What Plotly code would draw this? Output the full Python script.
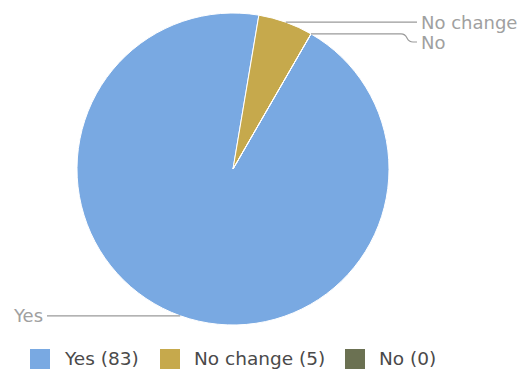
import math
import plotly.graph_objects as go

# ---- data ----
labels = ["Yes", "No change", "No"]
values = [83, 5, 0]
colors = ["#79a9e2", "#c6a94c", "#6b7152"]

W, H = 522, 372
CX, CY, R = 233, 169, 156  # pie centre / radius in px
ROT = 30  # start angle (deg, clockwise from 12 o'clock)

def px(x):
    return x / W

def py(y):
    return 1 - y / H

fig = go.Figure(go.Pie(
    labels=labels,
    values=values,
    marker=dict(colors=colors, line=dict(color="white", width=1)),
    sort=False,
    direction="clockwise",
    rotation=ROT,
    textinfo="none",
    hoverinfo="label+value+percent",
    showlegend=False,
    domain=dict(x=[px(CX - R), px(CX + R)], y=[py(CY + R), py(CY - R)]),
))

# anchor points of the slices, derived from the data
total = sum(values)
anchors = []
start = ROT
for v in values:
    span = 360 * v / total
    mid = start + span / 2
    a = math.radians(mid)
    anchors.append((CX + R * math.sin(a), CY - R * math.cos(a)))
    start += span

shapes = []
annotations = []
label_font = dict(family="DejaVu Sans", size=18, color="#a0a0a0")
line_style = dict(color="#9a9a9a", width=1.2)

# Yes (left, bottom)
ax, ay = anchors[0]
shapes.append(dict(type="line", xref="paper", yref="paper",
                   x0=px(ax), y0=py(ay), x1=px(47), y1=py(ay), line=line_style))
annotations.append(dict(xref="paper", yref="paper", x=px(45), y=py(ay),
                        text=labels[0], showarrow=False, xanchor="right",
                        yanchor="middle", font=label_font))

# No change (top right)
ax, ay = anchors[1]
shapes.append(dict(type="line", xref="paper", yref="paper",
                   x0=px(ax), y0=py(ay), x1=px(417), y1=py(ay), line=line_style))
annotations.append(dict(xref="paper", yref="paper", x=px(419), y=py(ay),
                        text=labels[1], showarrow=False, xanchor="left",
                        yanchor="middle", font=label_font))

# No (zero slice) with elbow
ax, ay = anchors[2]
ly = 42
path = (f"M {px(ax)} {py(ay)} L {px(401)} {py(ay)} "
        f"Q {px(405)} {py(ay)} {px(407)} {py((ay+ly)/2)} "
        f"Q {px(409)} {py(ly)} {px(413)} {py(ly)} L {px(417)} {py(ly)}")
shapes.append(dict(type="path", xref="paper", yref="paper", path=path,
                   line=line_style))
annotations.append(dict(xref="paper", yref="paper", x=px(419), y=py(ly),
                        text=labels[2], showarrow=False, xanchor="left",
                        yanchor="middle", font=label_font))

# legend (manual)
legend_font = dict(family="DejaVu Sans", size=18.5, color="#4a4a4a")
leg_x = [30, 160, 345]
for lab, val, col, lx in zip(labels, values, colors, leg_x):
    shapes.append(dict(type="rect", xref="paper", yref="paper",
                       x0=px(lx), x1=px(lx + 20), y0=py(369), y1=py(349),
                       fillcolor=col, line=dict(width=0)))
    annotations.append(dict(xref="paper", yref="paper", x=px(lx + 32), y=py(358),
                            text=f"{lab} ({val})", showarrow=False,
                            xanchor="left", yanchor="middle", font=legend_font))

fig.update_layout(
    width=W, height=H,
    margin=dict(l=0, r=0, t=0, b=0),
    paper_bgcolor="white",
    plot_bgcolor="white",
    shapes=shapes,
    annotations=annotations,
)

fig.write_html("out.html")
